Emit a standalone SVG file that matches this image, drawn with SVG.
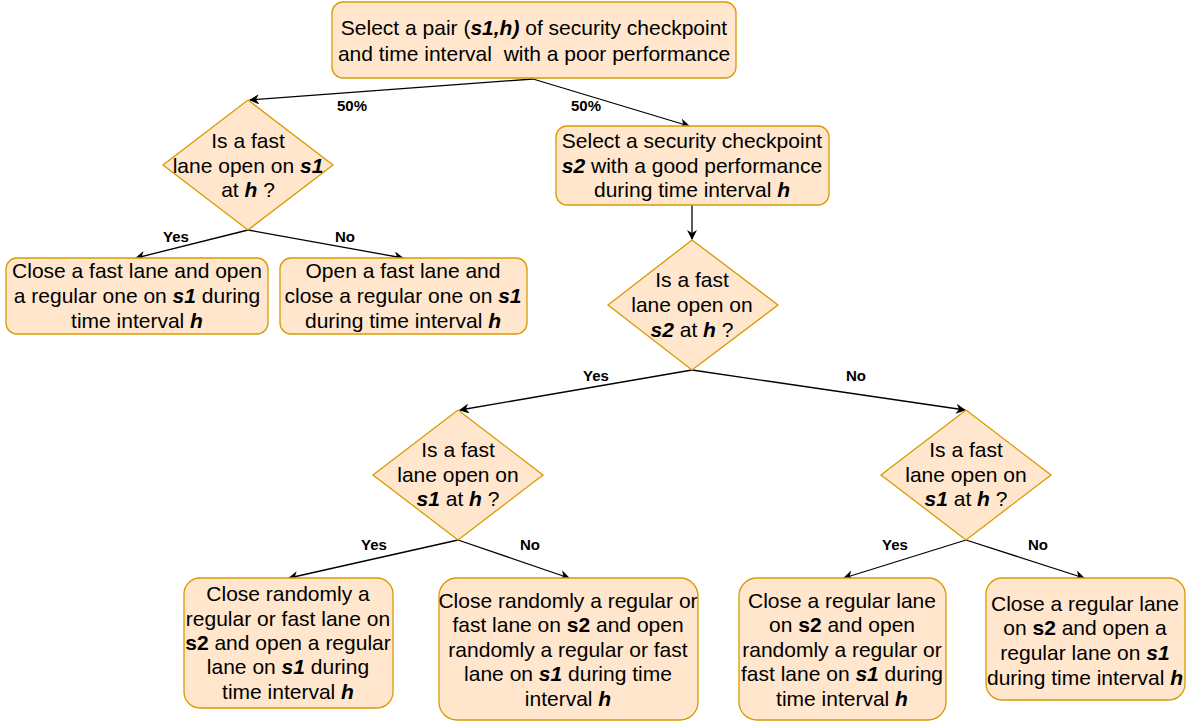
<svg xmlns="http://www.w3.org/2000/svg" width="1186" height="721" viewBox="0 0 1186 721">
<style>
.n{fill:#ffe6cc;stroke:#d79b00;stroke-width:1.3}
.t{font-family:"Liberation Sans",Arial,sans-serif;font-size:21px;fill:#000;text-anchor:middle}
.l{font-family:"Liberation Sans",Arial,sans-serif;font-size:15px;font-weight:bold;fill:#000;text-anchor:middle}
.e{stroke:#000;stroke-width:1.3;fill:none;marker-end:url(#a)}
.bi{font-weight:bold;font-style:italic}
.b{font-weight:bold}
</style>
<defs>
<marker id="a" viewBox="0 0 10 10" refX="9" refY="5" markerWidth="10" markerHeight="10" markerUnits="userSpaceOnUse" orient="auto">
<path d="M0,0 L10,5 L0,10 L3,5 Z" fill="#000"/>
</marker>
</defs>
<rect width="1186" height="721" fill="#fff"/>
<g id="connectors">
<path class="e" d="M533,79 L250,100"/>
<path class="e" d="M533,79 L689,126"/>
<path class="e" d="M692,205 L692,239"/>
<path class="e" d="M248,230 L136,258"/>
<path class="e" d="M248,230 L403,258"/>
<path class="e" d="M692,370 L460,410"/>
<path class="e" d="M692,370 L965,410"/>
<path class="e" d="M458,540 L289,578"/>
<path class="e" d="M458,540 L569,578"/>
<path class="e" d="M966,540 L844,578"/>
<path class="e" d="M966,540 L1084,578"/>
<text class="l" x="352" y="111">50%</text>
<text class="l" x="586" y="111">50%</text>
<text class="l" x="176" y="242">Yes</text>
<text class="l" x="345" y="242">No</text>
<text class="l" x="596" y="381">Yes</text>
<text class="l" x="856" y="381">No</text>
<text class="l" x="374" y="550">Yes</text>
<text class="l" x="530" y="550">No</text>
<text class="l" x="895" y="550">Yes</text>
<text class="l" x="1038" y="550">No</text>
</g>
<g id="n1">
<rect class="n" x="332" y="2" width="404" height="76" rx="11"/>
<text class="t" x="534" y="35">Select a pair (<tspan class="bi">s1,h)</tspan> of security checkpoint</text>
<text class="t" x="534" y="61">and time interval&#160; with a poor performance</text>
</g>
<g id="d1">
<polygon class="n" points="248,100 333,165 248,230 163,165"/>
<text class="t" x="248" y="148">Is a fast</text>
<text class="t" x="248" y="173">lane open on <tspan class="bi">s1</tspan></text>
<text class="t" x="248" y="197">at <tspan class="bi">h</tspan> ?</text>
</g>
<g id="n2">
<rect class="n" x="556" y="126" width="273" height="79" rx="11"/>
<text class="t" x="692" y="148">Select a security checkpoint</text>
<text class="t" x="692" y="173"><tspan class="bi">s2</tspan> with a good performance</text>
<text class="t" x="692" y="197">during time interval <tspan class="bi">h</tspan></text>
</g>
<g id="n3">
<rect class="n" x="6" y="258" width="262" height="76" rx="11"/>
<text class="t" x="137" y="278">Close a fast lane and open</text>
<text class="t" x="137" y="303">a regular one on <tspan class="bi">s1</tspan> during</text>
<text class="t" x="137" y="328">time interval <tspan class="bi">h</tspan></text>
</g>
<g id="n4">
<rect class="n" x="280" y="258" width="247" height="76" rx="11"/>
<text class="t" x="403" y="278">Open a fast lane and</text>
<text class="t" x="403" y="303">close a regular one on <tspan class="bi">s1</tspan></text>
<text class="t" x="403" y="328">during time interval <tspan class="bi">h</tspan></text>
</g>
<g id="d2">
<polygon class="n" points="692,240 778,305 692,370 608,305"/>
<text class="t" x="692" y="287">Is a fast</text>
<text class="t" x="692" y="312">lane open on</text>
<text class="t" x="692" y="337"><tspan class="bi">s2</tspan> at <tspan class="bi">h</tspan> ?</text>
</g>
<g id="d3">
<polygon class="n" points="458,410 543,475 458,540 373,475"/>
<text class="t" x="458" y="457">Is a fast</text>
<text class="t" x="458" y="482">lane open on</text>
<text class="t" x="458" y="506"><tspan class="bi">s1</tspan> at <tspan class="bi">h</tspan> ?</text>
</g>
<g id="d4">
<polygon class="n" points="966,410 1051,475 966,540 881,475"/>
<text class="t" x="966" y="457">Is a fast</text>
<text class="t" x="966" y="482">lane open on</text>
<text class="t" x="966" y="506"><tspan class="bi">s1</tspan> at <tspan class="bi">h</tspan> ?</text>
</g>
<g id="n5">
<rect class="n" x="184" y="578" width="209" height="130" rx="16"/>
<text class="t" x="288" y="601">Close randomly a</text>
<text class="t" x="288" y="626">regular or fast lane on</text>
<text class="t" x="288" y="650"><tspan class="b">s2</tspan> and open a regular</text>
<text class="t" x="288" y="674">lane on <tspan class="bi">s1</tspan> during</text>
<text class="t" x="288" y="699">time interval <tspan class="bi">h</tspan></text>
</g>
<g id="n6">
<rect class="n" x="439" y="578" width="259" height="142" rx="18"/>
<text class="t" x="568" y="608">Close randomly a regular or</text>
<text class="t" x="568" y="632">fast lane on <tspan class="b">s2</tspan> and open</text>
<text class="t" x="568" y="657">randomly a regular or fast</text>
<text class="t" x="568" y="681">lane on <tspan class="bi">s1</tspan> during time</text>
<text class="t" x="568" y="706">interval <tspan class="bi">h</tspan></text>
</g>
<g id="n7">
<rect class="n" x="739" y="578" width="207" height="142" rx="18"/>
<text class="t" x="842" y="608">Close a regular lane</text>
<text class="t" x="842" y="632">on <tspan class="b">s2</tspan> and open</text>
<text class="t" x="842" y="657">randomly a regular or</text>
<text class="t" x="842" y="681">fast lane on <tspan class="bi">s1</tspan> during</text>
<text class="t" x="842" y="706">time interval <tspan class="bi">h</tspan></text>
</g>
<g id="n8">
<rect class="n" x="986" y="578" width="199" height="122" rx="16"/>
<text class="t" x="1085" y="611">Close a regular lane</text>
<text class="t" x="1085" y="635">on <tspan class="b">s2</tspan> and open a</text>
<text class="t" x="1085" y="660">regular lane on <tspan class="bi">s1</tspan></text>
<text class="t" x="1085" y="685">during time interval <tspan class="bi">h</tspan></text>
</g>
</svg>
